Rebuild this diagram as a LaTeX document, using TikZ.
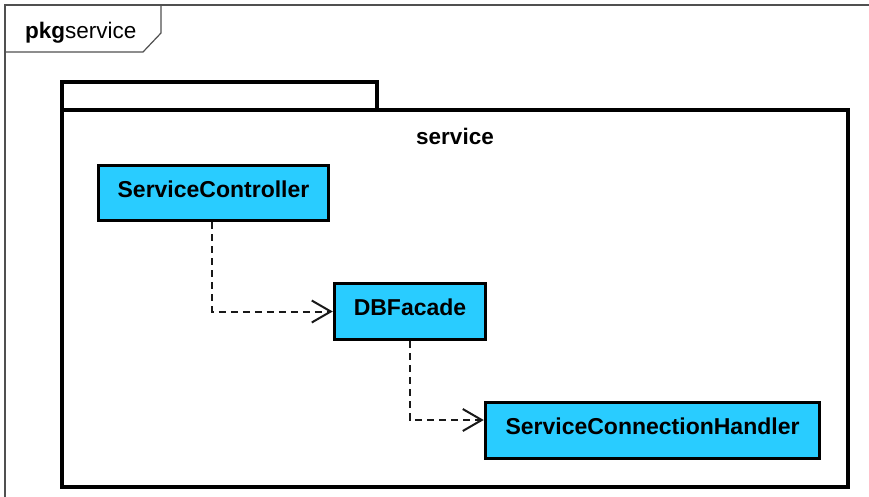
\documentclass[tikz,border=0pt]{standalone}
\usepackage{fontspec}
\setmainfont{Liberation Sans}
\usetikzlibrary{arrows.meta}
\definecolor{classfill}{RGB}{41,204,255}
\definecolor{framegray}{RGB}{80,80,80}
\newcommand{\classname}[1]{\raisebox{4pt}[\height][\depth]{#1}}
\tikzset{
  classbox/.style={draw=black, line width=3.5pt, fill=classfill, inner sep=0pt,
    font=\fontsize{23}{27}\selectfont\bfseries, text=black},
  dep/.style={draw=black!90, line width=2pt, dash pattern=on 7pt off 5pt,
    -{Straight Barb[length=19pt,width=22pt,line width=2pt]}},
  pkgline/.style={draw=black, line width=3.2pt},
  framestyle/.style={draw=framegray, line width=1.2pt},
}
\begin{document}
\begin{tikzpicture}[x=1pt,y=-1pt]
  \useasboundingbox (0,0) rectangle (869,496);
  \fill[white] (0,0) rectangle (869,496);

  % diagram frame with its name tab
  \draw[framestyle] (5,500) -- (5,5) -- (875,5);
  \draw[framestyle] (5,52) -- (143,52) -- (161,33) -- (161,5);
  \node[anchor=base west, inner sep=0pt, font=\fontsize{22.5}{26}\selectfont] (frametitle)
    at (25,38) {\textbf{pkg}service};

  % package "service"
  \draw[pkgline] (62,110) -- (62,82) -- (377,82) -- (377,110);
  \draw[pkgline] (62,110) rectangle (848,487);
  \node[font=\fontsize{22.5}{26}\selectfont\bfseries] (pkgname) at (455,136) {service};

  % classes
  \node[classbox, minimum width=230pt, minimum height=55pt] (SC) at (213.5,193) {\classname{ServiceController}};
  \node[classbox, minimum width=151pt, minimum height=56pt] (DB) at (410,311.5) {\classname{DBFacade}};
  \node[classbox, minimum width=334pt, minimum height=56pt] (SCH) at (652.5,430.5) {\classname{ServiceConnectionHandler}};

  % dependencies
  \draw[dep] ([xshift=-1.5pt]SC.south) |- (DB.west);
  \draw[dep] (DB.south) |- ([yshift=10.5pt]SCH.west);
\end{tikzpicture}
\end{document}
